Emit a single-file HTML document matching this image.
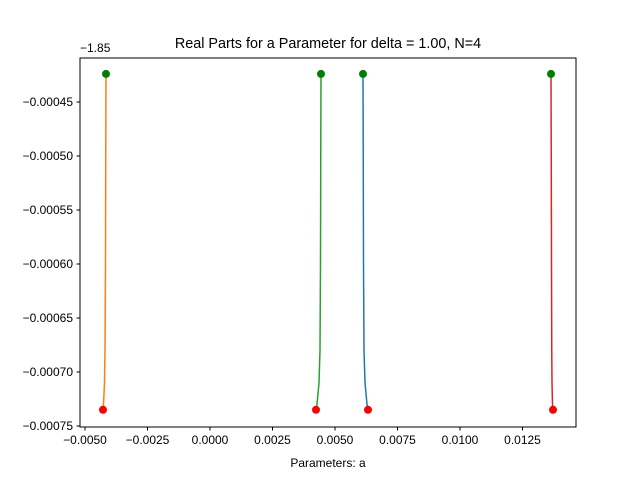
<!DOCTYPE html>
<html><head><meta charset="utf-8"><style>
body{margin:0;background:#fff}
svg{display:block;font-family:"Liberation Sans","DejaVu Sans",sans-serif}
</style></head><body>
<svg id="chart" width="640" height="480">
<rect width="640" height="480" fill="#fff"/>
<g id="plot"></g>
</svg>
<script>
const xTicks=[-0.0050,-0.0025,0.0000,0.0025,0.0050,0.0075,0.0100,0.0125];
const xTickLabels=["\u22120.0050","\u22120.0025","0.0000","0.0025","0.0050","0.0075","0.0100","0.0125"];
const yTicks=[-0.00045,-0.00050,-0.00055,-0.00060,-0.00065,-0.00070,-0.00075];
const yTickLabels=["\u22120.00045","\u22120.00050","\u22120.00055","\u22120.00060","\u22120.00065","\u22120.00070","\u22120.00075"];
const curveY=[-0.000424,-0.0005,-0.0006,-0.00068,-0.00071,-0.00073,-0.000735];
const seriesOrange=[-0.00416,-0.00417,-0.00418,-0.00420,-0.00422,-0.00426,-0.00428];
const seriesGreen=[0.00444,0.00443,0.00442,0.00440,0.00436,0.00428,0.00424];
const seriesBlue=[0.00612,0.00613,0.00614,0.00616,0.00620,0.00628,0.00632];
const seriesRed=[0.01364,0.01365,0.01366,0.01367,0.01368,0.01370,0.01372];
const startX=[-0.00416,0.00444,0.00612,0.01364];
const startY=[-0.000424,-0.000424,-0.000424,-0.000424];
const endX=[-0.00428,0.00424,0.00632,0.01372];
const endY=[-0.000735,-0.000735,-0.000735,-0.000735];

const L=80,R=576,T=58,B=427;
const sx=v=>210+v*25000;
const sy=v=>102+(-0.00045-v)/0.00005*54;
const NS="http://www.w3.org/2000/svg";
const g=document.getElementById('plot');
function mk(t,a,txt){const e=document.createElementNS(NS,t);for(const k in a)e.setAttribute(k,a[k]);if(txt!==undefined)e.textContent=txt;g.appendChild(e);return e;}

const series=[[seriesBlue,"#1f77b4","series-blue"],[seriesOrange,"#ff7f0e","series-orange"],[seriesGreen,"#2ca02c","series-green"],[seriesRed,"#d62728","series-red"]];
series.forEach(s=>{
  const d=s[0].map((x,i)=>(i?"L":"M")+sx(x).toFixed(2)+","+sy(curveY[i]).toFixed(2)).join(" ");
  const p=mk('path',{d:d,fill:"none",stroke:s[1],"stroke-width":1.5});
  
  
});
startX.forEach((x,i)=>{
  const c=mk('circle',{cx:sx(x),cy:sy(startY[i]),r:4,fill:"#008000"});
  
  
});
endX.forEach((x,i)=>{
  const c=mk('circle',{cx:sx(x),cy:sy(endY[i]),r:4,fill:"#ff0000"});
  
  
});
const frame=mk('rect',{x:L,y:T,width:R-L,height:B-T,fill:"none",stroke:"#000","stroke-width":1});


xTicks.forEach((v,i)=>{
  const x=sx(v);
  mk('line',{x1:x,x2:x,y1:B,y2:B+3.5,stroke:"#000"});
  const t=mk('text',{x:x,y:B+17,"font-size":12,"text-anchor":"middle"},xTickLabels[i]);
  
  
});
yTicks.forEach((v,i)=>{
  const y=sy(v);
  mk('line',{x1:L-3.5,x2:L,y1:y,y2:y,stroke:"#000"});
  const t=mk('text',{x:L-7,y:y+4,"font-size":12,"text-anchor":"end"},yTickLabels[i]);
  
  
});
const off=mk('text',{x:80,y:52,"font-size":12},"\u22121.85");


const title=mk('text',{x:328,y:48,"font-size":14.4,"text-anchor":"middle"},"Real Parts for a Parameter for delta = 1.00, N=4");


const xl=mk('text',{x:328,y:467,"font-size":12,"text-anchor":"middle"},"Parameters: a");


</script>
</body></html>
